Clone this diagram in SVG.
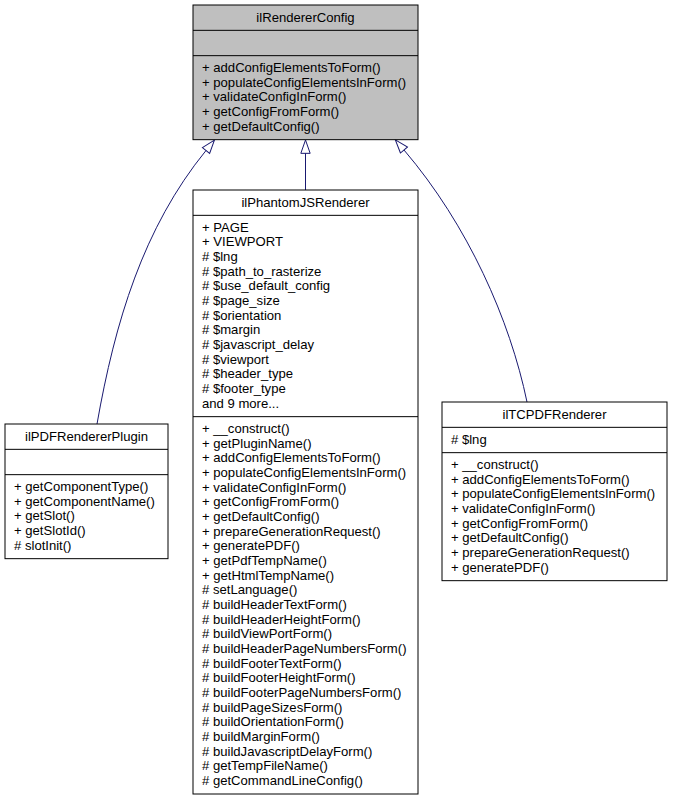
<svg xmlns="http://www.w3.org/2000/svg" width="673" height="800" viewBox="0 0 673 800">
<style>
.box{fill:#fff;stroke:#000;stroke-width:1}
.base{fill:#bfbfbf}
.sep{stroke:#000;stroke-width:1}
text{font-family:"Liberation Sans",Arial,Helvetica,sans-serif;font-size:13.1px;fill:#000}
.t{text-anchor:middle}
.edge{fill:none;stroke:#191970;stroke-width:1}
</style>
<defs>
<marker id="inh" markerUnits="userSpaceOnUse" markerWidth="16" markerHeight="12" viewBox="-1 -6 16 12" refX="0" refY="0" orient="auto">
<path d="M0,-4.67 L13.33,0 L0,4.67 Z" fill="none" stroke="#191970" stroke-width="1"/>
</marker>
</defs>
<rect width="673" height="800" fill="#fff"/>
<g id="edges">
<path class="edge" d="M305.5,190 L305.5,153.33" marker-end="url(#inh)"/>
<path class="edge" d="M97,424 C115,322 143,228 206,150.5" marker-end="url(#inh)"/>
<path class="edge" d="M527,402 C510,320 468,225 404,150" marker-end="url(#inh)"/>
</g>
<g id="ilRendererConfig">
<rect class="box base" x="193" y="5" width="225" height="134.67"/>
<line class="sep" x1="193" y1="30.33" x2="418" y2="30.33"/>
<line class="sep" x1="193" y1="55.67" x2="418" y2="55.67"/>
<text class="t" x="305.5" y="21.5">ilRendererConfig</text>
<text x="202" y="72">
<tspan x="202">+ addConfigElementsToForm()</tspan>
<tspan x="202" dy="14.67">+ populateConfigElementsInForm()</tspan>
<tspan x="202" dy="14.67">+ validateConfigInForm()</tspan>
<tspan x="202" dy="14.67">+ getConfigFromForm()</tspan>
<tspan x="202" dy="14.67">+ getDefaultConfig()</tspan>
</text>
</g>
<g id="ilPhantomJSRenderer">
<rect class="box" x="193" y="190" width="225" height="604"/>
<line class="sep" x1="193" y1="215.33" x2="418" y2="215.33"/>
<line class="sep" x1="193" y1="416.67" x2="418" y2="416.67"/>
<text class="t" x="305.5" y="206.5">ilPhantomJSRenderer</text>
<text x="202" y="231.67">
<tspan x="202">+ PAGE</tspan>
<tspan x="202" dy="14.67">+ VIEWPORT</tspan>
<tspan x="202" dy="14.67"># $lng</tspan>
<tspan x="202" dy="14.67"># $path_to_rasterize</tspan>
<tspan x="202" dy="14.67"># $use_default_config</tspan>
<tspan x="202" dy="14.67"># $page_size</tspan>
<tspan x="202" dy="14.67"># $orientation</tspan>
<tspan x="202" dy="14.67"># $margin</tspan>
<tspan x="202" dy="14.67"># $javascript_delay</tspan>
<tspan x="202" dy="14.67"># $viewport</tspan>
<tspan x="202" dy="14.67"># $header_type</tspan>
<tspan x="202" dy="14.67"># $footer_type</tspan>
<tspan x="202" dy="14.67">and 9 more...</tspan>
</text>
<text x="202" y="433">
<tspan x="202">+ __construct()</tspan>
<tspan x="202" dy="14.67">+ getPluginName()</tspan>
<tspan x="202" dy="14.67">+ addConfigElementsToForm()</tspan>
<tspan x="202" dy="14.67">+ populateConfigElementsInForm()</tspan>
<tspan x="202" dy="14.67">+ validateConfigInForm()</tspan>
<tspan x="202" dy="14.67">+ getConfigFromForm()</tspan>
<tspan x="202" dy="14.67">+ getDefaultConfig()</tspan>
<tspan x="202" dy="14.67">+ prepareGenerationRequest()</tspan>
<tspan x="202" dy="14.67">+ generatePDF()</tspan>
<tspan x="202" dy="14.67">+ getPdfTempName()</tspan>
<tspan x="202" dy="14.67">+ getHtmlTempName()</tspan>
<tspan x="202" dy="14.67"># setLanguage()</tspan>
<tspan x="202" dy="14.67"># buildHeaderTextForm()</tspan>
<tspan x="202" dy="14.67"># buildHeaderHeightForm()</tspan>
<tspan x="202" dy="14.67"># buildViewPortForm()</tspan>
<tspan x="202" dy="14.67"># buildHeaderPageNumbersForm()</tspan>
<tspan x="202" dy="14.67"># buildFooterTextForm()</tspan>
<tspan x="202" dy="14.67"># buildFooterHeightForm()</tspan>
<tspan x="202" dy="14.67"># buildFooterPageNumbersForm()</tspan>
<tspan x="202" dy="14.67"># buildPageSizesForm()</tspan>
<tspan x="202" dy="14.67"># buildOrientationForm()</tspan>
<tspan x="202" dy="14.67"># buildMarginForm()</tspan>
<tspan x="202" dy="14.67"># buildJavascriptDelayForm()</tspan>
<tspan x="202" dy="14.67"># getTempFileName()</tspan>
<tspan x="202" dy="14.67"># getCommandLineConfig()</tspan>
</text>
</g>
<g id="ilPDFRendererPlugin">
<rect class="box" x="5" y="424" width="163" height="134.67"/>
<line class="sep" x1="5" y1="449.33" x2="168" y2="449.33"/>
<line class="sep" x1="5" y1="474.67" x2="168" y2="474.67"/>
<text class="t" x="86.5" y="440.5">ilPDFRendererPlugin</text>
<text x="14" y="491">
<tspan x="14">+ getComponentType()</tspan>
<tspan x="14" dy="14.67">+ getComponentName()</tspan>
<tspan x="14" dy="14.67">+ getSlot()</tspan>
<tspan x="14" dy="14.67">+ getSlotId()</tspan>
<tspan x="14" dy="14.67"># slotInit()</tspan>
</text>
</g>
<g id="ilTCPDFRenderer">
<rect class="box" x="442" y="402" width="225" height="178.67"/>
<line class="sep" x1="442" y1="427.33" x2="667" y2="427.33"/>
<line class="sep" x1="442" y1="452.67" x2="667" y2="452.67"/>
<text class="t" x="554.5" y="418.5">ilTCPDFRenderer</text>
<text x="451" y="443.67"># $lng</text>
<text x="451" y="469">
<tspan x="451">+ __construct()</tspan>
<tspan x="451" dy="14.67">+ addConfigElementsToForm()</tspan>
<tspan x="451" dy="14.67">+ populateConfigElementsInForm()</tspan>
<tspan x="451" dy="14.67">+ validateConfigInForm()</tspan>
<tspan x="451" dy="14.67">+ getConfigFromForm()</tspan>
<tspan x="451" dy="14.67">+ getDefaultConfig()</tspan>
<tspan x="451" dy="14.67">+ prepareGenerationRequest()</tspan>
<tspan x="451" dy="14.67">+ generatePDF()</tspan>
</text>
</g>
</svg>
